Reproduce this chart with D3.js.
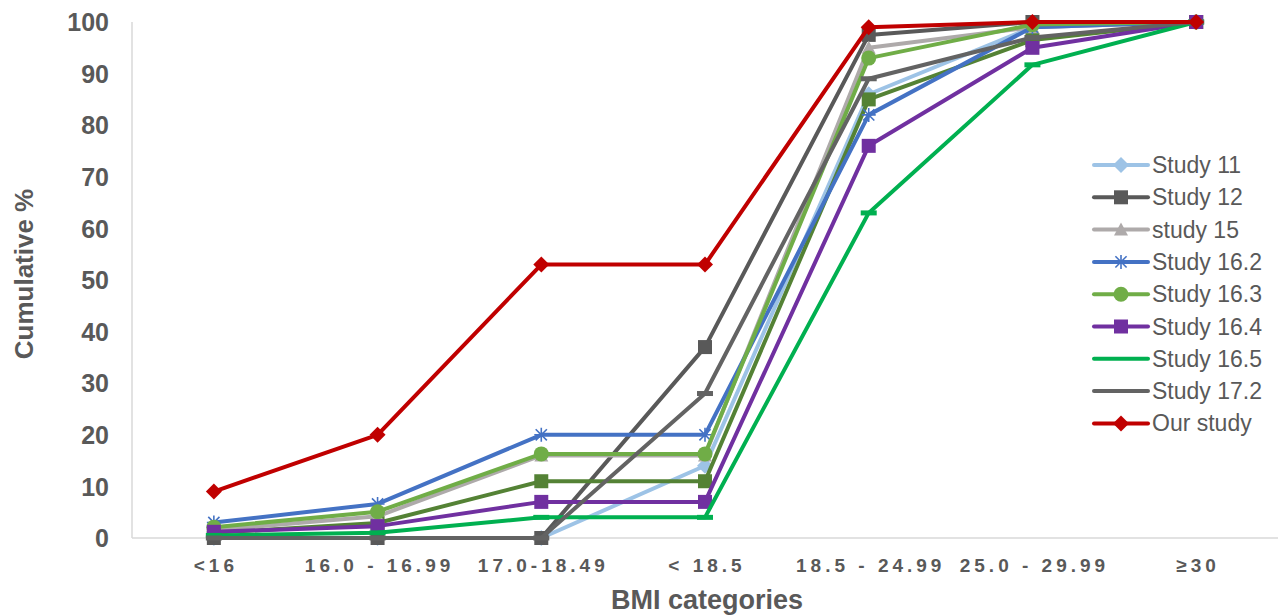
<!DOCTYPE html>
<html><head><meta charset="utf-8">
<script src="https://cdn.jsdelivr.net/npm/d3@7"></script>
<style>
body{margin:0;background:#fff;}
svg text{font-family:"Liberation Sans",Arial,sans-serif;fill:#595959;}
</style></head>
<body><svg id="c" width="1279" height="615"></svg>
<script>
const categories = ["<16","16.0 - 16.99","17.0-18.49","< 18.5","18.5 - 24.99","25.0 - 29.99","≥30"];
const yTicks = [0,10,20,30,40,50,60,70,80,90,100];
const seriesNames = ["Study 11","Study 12","","study 15","Study 16.2","Study 16.3","Study 16.4","Study 16.5","Study 17.2","Our study"];
const study11  = [0, 0, 0, 14, 86, 99, 100];
const study12  = [0, 0, 0, 37, 97.5, 100, 100];
const unlabeled = [1, 2.9, 11, 11, 85, 96.5, 100];
const study15  = [1.5, 4.2, 16, 16, 95, 99, 100];
const study162 = [3, 6.6, 20, 20, 82, 99, 100];
const study163 = [2.1, 5.1, 16.3, 16.3, 93, 99.5, 100];
const study164 = [1.2, 2.3, 7, 7, 76, 95, 100];
const study165 = [0.5, 1, 4, 4, 63, 91.7, 100];
const study172 = [0, 0, 0, 28, 89, 97, 100];
const ourStudy = [9, 20, 53, 53, 99, 100, 100];

const series = [
  {name:seriesNames[0], values:study11, color:"#9DC3E6", marker:"diamond", legend:true},
  {name:seriesNames[1], values:study12, color:"#595959", marker:"square", legend:true},
  {name:seriesNames[2], values:unlabeled, color:"#548235", marker:"square", legend:false},
  {name:seriesNames[3], values:study15, color:"#AEAAAA", marker:"triangle", legend:true},
  {name:seriesNames[4], values:study162, color:"#4472C4", marker:"star", legend:true},
  {name:seriesNames[5], values:study163, color:"#70AD47", marker:"circle", legend:true},
  {name:seriesNames[6], values:study164, color:"#7030A0", marker:"square", legend:true},
  {name:seriesNames[7], values:study165, color:"#00B050", marker:"dash", legend:true},
  {name:seriesNames[8], values:study172, color:"#636363", marker:"dash", legend:true},
  {name:seriesNames[9], values:ourStudy, color:"#C00000", marker:"diamond", legend:true}
];

const svg = d3.select("#c");
const x = d3.scaleBand().domain(categories).range([132,1278]).padding(0);
const y = d3.scaleLinear().domain([0,100]).range([538,22]);
const cx = c => x(c) + x.bandwidth()/2;

// axis lines
svg.append("line").attr("x1",132).attr("x2",132).attr("y1",22).attr("y2",538).attr("stroke","#d9d9d9").attr("stroke-width",1.5);
svg.append("line").attr("x1",132).attr("x2",1278).attr("y1",y(0)).attr("y2",y(0)).attr("stroke","#d9d9d9").attr("stroke-width",1.5);

// y axis
const yAxis = d3.axisLeft(y).tickValues(yTicks).tickSize(0).tickPadding(0);
const gy = svg.append("g").attr("transform","translate(109,0)").call(yAxis);
gy.select(".domain").remove();
gy.selectAll("text").attr("font-size","25px").attr("font-weight","bold").attr("fill","#595959").attr("dy","0.35em");

// x axis
const xAxis = d3.axisBottom(x).tickSize(0).tickPadding(0);
const gx = svg.append("g").attr("transform","translate(2,0)").call(xAxis);
gx.select(".domain").remove();
gx.selectAll("text").attr("font-size","19px").attr("font-weight","bold").attr("fill","#595959").attr("letter-spacing","4px").attr("y",572).attr("dy",0);

// titles
svg.append("text").attr("x",707).attr("y",609).attr("text-anchor","middle").attr("font-size","27px").attr("font-weight","bold").text("BMI categories");
svg.append("text").attr("transform","translate(33,274) rotate(-90)").attr("text-anchor","middle").attr("font-size","26px").attr("font-weight","bold").text("Cumulative %");

function drawMarker(g, type, color, px, py, s){
  s = s || 1;
  if(type==="square") g.append("rect").attr("x",px-7*s).attr("y",py-7*s).attr("width",14*s).attr("height",14*s).attr("fill",color);
  else if(type==="diamond") g.append("path").attr("d",`M${px},${py-8*s}L${px+8*s},${py}L${px},${py+8*s}L${px-8*s},${py}Z`).attr("fill",color);
  else if(type==="circle") g.append("circle").attr("cx",px).attr("cy",py).attr("r",7.5*s).attr("fill",color);
  else if(type==="triangle") g.append("path").attr("d",`M${px},${py-7*s}L${px+7*s},${py+6*s}L${px-7*s},${py+6*s}Z`).attr("fill",color);
  else if(type==="star"){
    const r=7*s;
    g.append("path").attr("d",`M${px-r},${py}L${px+r},${py}M${px},${py-r}L${px},${py+r}M${px-r*0.8},${py-r*0.8}L${px+r*0.8},${py+r*0.8}M${px-r*0.8},${py+r*0.8}L${px+r*0.8},${py-r*0.8}`).attr("stroke",color).attr("stroke-width",1.6).attr("fill","none");
  }
  else if(type==="dash") g.append("rect").attr("x",px-8*s).attr("y",py-2.5).attr("width",16*s).attr("height",5).attr("fill",color);
}

const line = d3.line().x((d,i)=>cx(categories[i])).y(d=>y(d));
series.forEach(s=>{
  const g = svg.append("g");
  g.append("path").datum(s.values).attr("d",line).attr("fill","none").attr("stroke",s.color).attr("stroke-width",4).attr("stroke-linejoin","round");
  s.values.forEach((v,i)=>drawMarker(g,s.marker,s.color,cx(categories[i]),y(v)));
});

// legend
const leg = svg.append("g");
series.filter(s=>s.legend).forEach((s,i)=>{
  const yy = 165 + i*32.3;
  leg.append("line").attr("x1",1094).attr("x2",1148).attr("y1",yy).attr("y2",yy).attr("stroke",s.color).attr("stroke-width",4).attr("stroke-linecap","round");
  if(s.marker!=="dash") drawMarker(leg,s.marker,s.color,1121,yy,1);
  leg.append("text").attr("x",1152).attr("y",yy).attr("dy","0.35em").attr("font-size","23px").text(s.name);
});
</script></body></html>
